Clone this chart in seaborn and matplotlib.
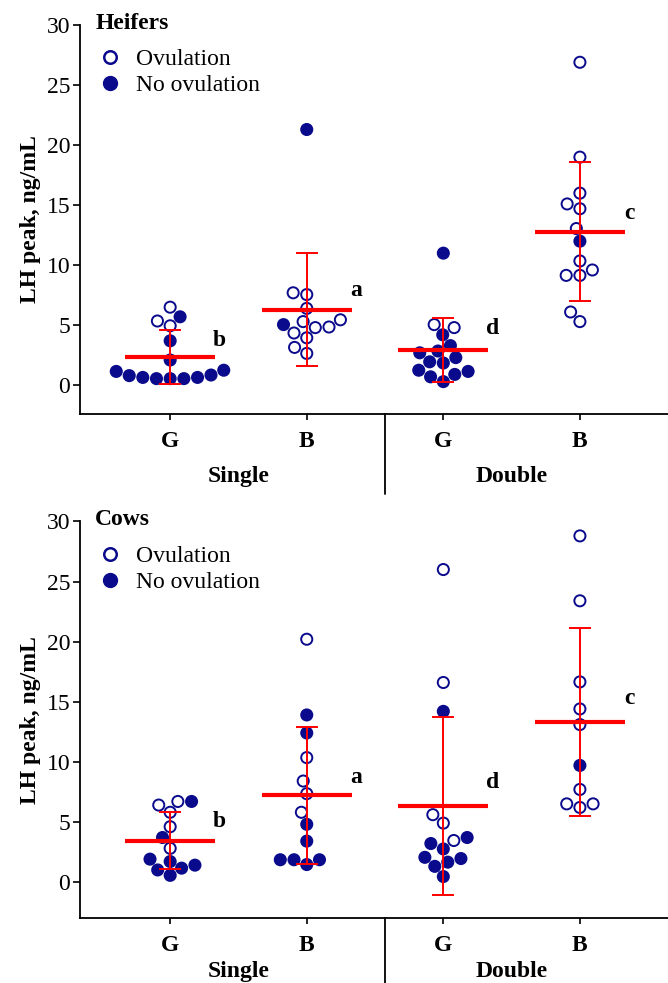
import numpy as np
import pandas as pd
import matplotlib
matplotlib.use("Agg")
import matplotlib.pyplot as plt
import matplotlib.transforms as mtransforms
from matplotlib.lines import Line2D
import seaborn as sns

sns.set_theme(style="ticks")
plt.rcParams["font.family"] = ["Liberation Serif", "DejaVu Serif"]
plt.rcParams.update({"text.color": "black", "axes.labelcolor": "black",
                     "xtick.color": "black", "ytick.color": "black"})

NAVY = "#0a0a8c"
RED = "#ff0000"

groups = ["Single G", "Single B", "Double G", "Double B"]
tick_labels = ["G", "B", "G", "B"]
treatments = ["Single", "Double"]
letters = ["b", "a", "d", "c"]

# heifers, LH peak (ng/mL)
heifer_ovulation = [
    [6.5, 5.35, 4.95],
    [7.7, 7.55, 6.4, 5.45, 5.3, 4.85, 4.8, 4.35, 3.95, 3.15, 2.65],
    [5.05, 4.8],
    [26.9, 19.0, 16.0, 15.1, 14.7, 13.05, 10.35, 9.6, 9.15, 9.15, 6.1, 5.3],
]
heifer_no_ovulation = [
    [5.7, 3.7, 2.1, 1.25, 0.85, 0.65, 0.55, 0.55, 0.55, 0.65, 0.8, 1.15],
    [21.3, 5.05],
    [11.0, 4.2, 3.3, 2.85, 2.7, 2.3, 1.95, 1.85, 1.25, 1.15, 0.9, 0.7, 0.3],
    [12.0],
]
heifer_mean = [2.33, 6.3, 2.95, 12.8]
heifer_sd = [2.25, 4.7, 2.68, 5.8]
heifer_letter_y = [3.75, 7.9, 4.75, 14.3]

# cows
cow_ovulation = [
    [6.7, 6.4, 5.8, 4.6, 2.8],
    [20.2, 10.35, 8.4, 7.35, 5.8],
    [26.0, 16.6, 5.6, 4.9, 3.45],
    [28.8, 23.4, 16.65, 14.4, 13.1, 7.7, 6.5, 6.5, 6.2],
]
cow_no_ovulation = [
    [6.7, 3.7, 1.9, 1.7, 1.4, 1.15, 1.0, 0.55],
    [13.9, 12.4, 4.8, 3.4, 1.85, 1.85, 1.85, 1.45],
    [14.2, 3.7, 3.2, 2.75, 2.05, 1.95, 1.65, 1.3, 0.45],
    [9.7],
]
cow_mean = [3.45, 7.2, 6.3, 13.3]
cow_sd = [2.35, 5.7, 7.4, 7.8]
cow_letter_y = [5.0, 8.7, 8.3, 15.3]


def make_df(ov, no_ov):
    rows = []
    for g, vals in zip(groups, ov):
        rows += [(g, v, "Ovulation") for v in vals]
    for g, vals in zip(groups, no_ov):
        rows += [(g, v, "No ovulation") for v in vals]
    return pd.DataFrame(rows, columns=["group", "value", "status"])


def draw_panel(ax, df, means, sds, letter_y, title, ymin, lab_off, div_len):
    sns.swarmplot(data=df, x="group", y="value", hue="status", order=groups,
                  hue_order=["Ovulation", "No ovulation"],
                  palette={"Ovulation": "white", "No ovulation": NAVY},
                  size=8, edgecolor=NAVY, linewidth=1.4, legend=False, ax=ax)
    xs = np.arange(len(groups))
    ax.errorbar(xs, means, yerr=sds, fmt="none", ecolor=RED, elinewidth=1.4,
                capsize=8, capthick=1.4, zorder=5)
    ax.hlines(means, xs - 0.33, xs + 0.33, color=RED, lw=3, zorder=6)
    for x, y, l in zip(xs, letter_y, letters):
        ax.text(x + 0.36, y, l, fontsize=17, fontweight="bold", va="center", ha="center")

    ax.set_xlim(-0.66, 3.645)
    ax.set_ylim(ymin, 30)
    ax.set_yticks(range(0, 31, 5))
    ax.set_xticks(xs)
    ax.set_xticklabels(tick_labels, fontsize=17, fontweight="bold")
    ax.tick_params(axis="y", labelsize=17, length=5, width=1.2, pad=2)
    ax.tick_params(axis="x", length=4, width=1.2, pad=8)
    ax.set_xlabel("")
    ax.set_ylabel("LH peak, ng/mL", fontsize=17, fontweight="bold", labelpad=4)
    for s in ["top", "right"]:
        ax.spines[s].set_visible(False)
    for s in ["left", "bottom"]:
        ax.spines[s].set_linewidth(1.3)
        ax.spines[s].set_color("black")

    ax.text(0.026, 1.005, title, transform=ax.transAxes, fontsize=17,
            fontweight="bold", va="center", ha="left")

    handles = [
        Line2D([], [], ls="none", marker="o", markersize=9, markerfacecolor="white",
               markeredgecolor=NAVY, markeredgewidth=1.8),
        Line2D([], [], ls="none", marker="o", markersize=10, markerfacecolor=NAVY,
               markeredgecolor=NAVY),
    ]
    ax.legend(handles, ["Ovulation", "No ovulation"], loc="upper left",
              bbox_to_anchor=(0.031, 0.94), frameon=False, fontsize=17,
              handlelength=1, handletextpad=0.6, borderaxespad=0, borderpad=0,
              labelspacing=0.2)

    # treatment labels and divider below the axis
    trans = mtransforms.blended_transform_factory(ax.transData, ax.transAxes)
    h_px = ax.get_position().height * ax.figure.get_figheight() * ax.figure.dpi
    for x, t in zip([0.5, 2.5], treatments):
        ax.text(x, -lab_off / h_px, t, transform=trans, fontsize=17, fontweight="bold",
                ha="center", va="center")
    ax.plot([1.57, 1.57], [0, -div_len / h_px], transform=trans, color="black",
            lw=1.3, clip_on=False)


fig = plt.figure(figsize=(6.68, 9.83), dpi=100)
ax1 = fig.add_axes([0.1198, 0.5788, 0.8802, 0.3957])
ax2 = fig.add_axes([0.1198, 0.0661, 0.8802, 0.4034])

draw_panel(ax1, make_df(heifer_ovulation, heifer_no_ovulation),
           heifer_mean, heifer_sd, heifer_letter_y, "Heifers", -2.4, 62, 80)
draw_panel(ax2, make_df(cow_ovulation, cow_no_ovulation),
           cow_mean, cow_sd, cow_letter_y, "Cows", -3.0, 53, 70)

fig.savefig("out.png", dpi=100)
